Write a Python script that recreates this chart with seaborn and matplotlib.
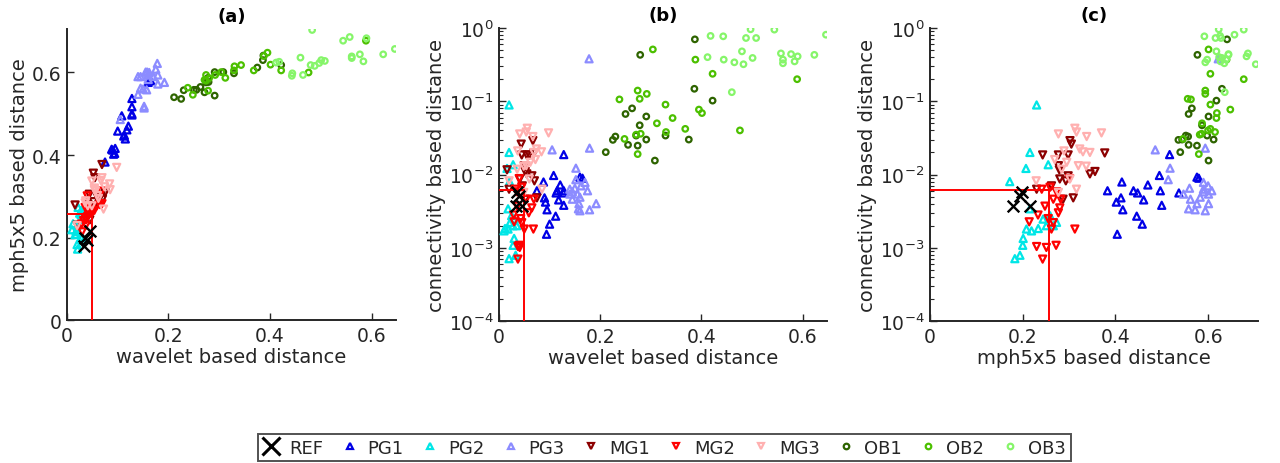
import numpy as np
import pandas as pd
import matplotlib
matplotlib.use("Agg")
import matplotlib.pyplot as plt
from matplotlib.lines import Line2D
import seaborn as sns

# ---------------- data (wavelet, mph5x5, connectivity) per group ----------------
REF_wav = [0.033, 0.040, 0.045, 0.036]
REF_mph = [0.180, 0.194, 0.2155, 0.198]
REF_con = [0.00375, 0.0051, 0.0037, 0.0057]

PG1_wav = [0.128, 0.108, 0.121, 0.088, 0.075, 0.115, 0.113, 0.118, 0.128, 0.128,
           0.092, 0.090, 0.095, 0.112, 0.128, 0.160, 0.165, 0.094, 0.100]
PG1_mph = [0.517, 0.495, 0.470, 0.414, 0.383, 0.439, 0.448, 0.461, 0.497, 0.500,
           0.402, 0.412, 0.416, 0.446, 0.537, 0.576, 0.580, 0.404, 0.458]
PG1_con = [0.0187, 0.0097, 0.0072, 0.0079, 0.0060, 0.0060, 0.0056, 0.0045, 0.0060, 0.0038,
           0.0042, 0.0048, 0.0033, 0.0027, 0.0056, 0.0092, 0.0089, 0.00153, 0.0021]

PG2_wav = [0.020, 0.020, 0.028, 0.016, 0.021, 0.018, 0.025, 0.030, 0.022, 0.035,
           0.028, 0.012, 0.018, 0.010, 0.030, 0.028, 0.033, 0.020]
PG2_mph = [0.230, 0.2155, 0.255, 0.207, 0.172, 0.2155, 0.259, 0.244, 0.273, 0.251,
           0.266, 0.2335, 0.208, 0.219, 0.201, 0.200, 0.194, 0.183]
PG2_con = [0.089, 0.020, 0.0136, 0.0121, 0.0080, 0.0034, 0.00274, 0.00246, 0.00222, 0.0020,
           0.0020, 0.00183, 0.0018, 0.0017, 0.00134, 0.00108, 0.00079, 0.00071]

PG3_wav = [0.105, 0.152, 0.179, 0.140, 0.150, 0.160, 0.170, 0.175, 0.155, 0.145,
           0.192, 0.157, 0.179, 0.158, 0.160, 0.140, 0.178, 0.152, 0.162, 0.145]
PG3_mph = [0.486, 0.518, 0.594, 0.547, 0.560, 0.583, 0.590, 0.608, 0.601, 0.562,
           0.576, 0.558, 0.572, 0.601, 0.594, 0.590, 0.622, 0.514, 0.600, 0.590]
PG3_con = [0.0217, 0.0122, 0.0229, 0.0054, 0.0065, 0.0049, 0.0078, 0.0060, 0.0054, 0.0046,
           0.0040, 0.0034, 0.0033, 0.0040, 0.0032, 0.0063, 0.38, 0.0085, 0.0070, 0.0058]

MG1_wav = [0.045, 0.055, 0.067, 0.044, 0.060, 0.050, 0.070, 0.065, 0.041, 0.046,
           0.020, 0.052, 0.075, 0.055, 0.052, 0.069, 0.016]
MG1_mph = [0.243, 0.277, 0.302, 0.305, 0.298, 0.277, 0.293, 0.298, 0.280, 0.262,
           0.230, 0.287, 0.309, 0.345, 0.356, 0.377, 0.279]
MG1_con = [0.0185, 0.0185, 0.029, 0.026, 0.0185, 0.0132, 0.0082, 0.0096, 0.0087, 0.0070,
           0.0063, 0.0046, 0.0048, 0.0102, 0.0110, 0.0197, 0.0116]

MG2_wav = [0.030, 0.0375, 0.041, 0.0375, 0.040, 0.068, 0.036, 0.029, 0.043, 0.045,
           0.059, 0.065, 0.036, 0.054, 0.045, 0.033, 0.069, 0.050, 0.040]
MG2_mph = [0.214, 0.230, 0.251, 0.243, 0.272, 0.3125, 0.248, 0.233, 0.255, 0.266,
           0.277, 0.280, 0.273, 0.266, 0.259, 0.241, 0.282, 0.262, 0.301]
MG2_con = [0.00226, 0.00104, 0.00101, 0.0007, 0.00108, 0.0018, 0.0037, 0.0028, 0.0025, 0.0022,
           0.0030, 0.0035, 0.0058, 0.0046, 0.0067, 0.0063, 0.0046, 0.0018, 0.0088]

MG3_wav = [0.041, 0.056, 0.054, 0.067, 0.098, 0.074, 0.084, 0.069, 0.062, 0.054,
           0.036, 0.060, 0.085, 0.049, 0.020, 0.037, 0.072, 0.049]
MG3_mph = [0.277, 0.3125, 0.316, 0.338, 0.370, 0.323, 0.330, 0.345, 0.295, 0.320,
           0.284, 0.302, 0.316, 0.277, 0.229, 0.289, 0.269, 0.337]
MG3_con = [0.0358, 0.0428, 0.038, 0.033, 0.037, 0.0223, 0.0204, 0.0200, 0.0147, 0.0132,
           0.0118, 0.0087, 0.0063, 0.0057, 0.0082, 0.021, 0.016, 0.013]

OB1_wav = [0.387, 0.279, 0.386, 0.422, 0.263, 0.250, 0.291, 0.278, 0.329, 0.375,
           0.225, 0.255, 0.274, 0.211, 0.308, 0.230, 0.291, 0.271]
OB1_mph = [0.641, 0.577, 0.630, 0.618, 0.565, 0.558, 0.601, 0.587, 0.598, 0.612,
           0.536, 0.558, 0.576, 0.540, 0.601, 0.557, 0.544, 0.552]
OB1_con = [0.70, 0.43, 0.148, 0.102, 0.080, 0.067, 0.062, 0.047, 0.034, 0.030,
           0.0297, 0.0254, 0.0248, 0.0202, 0.0155, 0.033, 0.030, 0.034]

OB2_wav = [0.304, 0.388, 0.422, 0.589, 0.274, 0.292, 0.278, 0.238, 0.329, 0.395,
           0.401, 0.343, 0.312, 0.368, 0.476, 0.330, 0.248, 0.280, 0.271, 0.274]
OB2_mph = [0.601, 0.640, 0.605, 0.677, 0.594, 0.594, 0.556, 0.563, 0.605, 0.648,
           0.619, 0.618, 0.587, 0.605, 0.600, 0.615, 0.546, 0.586, 0.582, 0.580]
OB2_con = [0.51, 0.37, 0.237, 0.20, 0.14, 0.126, 0.108, 0.106, 0.090, 0.077,
           0.069, 0.059, 0.050, 0.042, 0.040, 0.038, 0.0306, 0.036, 0.035, 0.019]

OB3_wav = [0.497, 0.544, 0.646, 0.418, 0.443, 0.488, 0.508, 0.483, 0.480, 0.444,
           0.465, 0.501, 0.557, 0.561, 0.561, 0.577, 0.584, 0.590, 0.623, 0.460, 0.412]
OB3_mph = [0.623, 0.677, 0.657, 0.626, 0.592, 0.616, 0.628, 0.703, 0.618, 0.598,
           0.594, 0.630, 0.686, 0.639, 0.635, 0.644, 0.627, 0.683, 0.644, 0.636, 0.624]
OB3_con = [0.96, 0.95, 0.81, 0.78, 0.77, 0.73, 0.73, 0.32, 0.48, 0.37,
           0.34, 0.39, 0.45, 0.37, 0.33, 0.44, 0.35, 0.41, 0.43, 0.133, 0.40]

# thresholds (red lines)
thr_wav = 0.05
thr_mph = 0.256
thr_con = 0.0062

groups = ["REF", "PG1", "PG2", "PG3", "MG1", "MG2", "MG3", "OB1", "OB2", "OB3"]
colors = {"REF": "#000000", "PG1": "#0000e6", "PG2": "#00e6e6", "PG3": "#8c8cff",
          "MG1": "#8c0000", "MG2": "#ff0000", "MG3": "#ffb0b0",
          "OB1": "#2e6400", "OB2": "#4cc000", "OB3": "#86f56a"}
markers = {"REF": "x", "PG1": "^", "PG2": "^", "PG3": "^", "MG1": "v", "MG2": "v",
           "MG3": "v", "OB1": "o", "OB2": "o", "OB3": "o"}
sizes = {"^": 26, "v": 26, "o": 16}

series = {
    "REF": (REF_wav, REF_mph, REF_con), "PG1": (PG1_wav, PG1_mph, PG1_con),
    "PG2": (PG2_wav, PG2_mph, PG2_con), "PG3": (PG3_wav, PG3_mph, PG3_con),
    "MG1": (MG1_wav, MG1_mph, MG1_con), "MG2": (MG2_wav, MG2_mph, MG2_con),
    "MG3": (MG3_wav, MG3_mph, MG3_con), "OB1": (OB1_wav, OB1_mph, OB1_con),
    "OB2": (OB2_wav, OB2_mph, OB2_con), "OB3": (OB3_wav, OB3_mph, OB3_con),
}
rows = []
for g, (w, m, c) in series.items():
    for a, b, d in zip(w, m, c):
        rows.append({"group": g, "wav": a, "mph": b, "con": d})
df = pd.DataFrame(rows)

# ---------------- plotting ----------------
sns.set_theme(style="white")
plt.rcParams["font.family"] = ["DejaVu Sans"]
plt.rcParams["axes.edgecolor"] = "#262626"
plt.rcParams["xtick.color"] = "#262626"
plt.rcParams["ytick.color"] = "#262626"

fig = plt.figure(figsize=(12.8, 4.64), dpi=100)
axa = fig.add_axes([0.0523, 0.308, 0.2570, 0.627])
axb = fig.add_axes([0.3898, 0.306, 0.2563, 0.6315])
axc = fig.add_axes([0.7266, 0.306, 0.2563, 0.6315])

panels = [(axa, "wav", "mph", "(a)", "wavelet based distance", "mph5x5 based distance", False),
          (axb, "wav", "con", "(b)", "wavelet based distance", "connectivity based distance", True),
          (axc, "mph", "con", "(c)", "mph5x5 based distance", "connectivity based distance", True)]

order = groups[1:] + ["REF"]
for ax, xv, yv, title, xl, yl, logy in panels:
    for g in order:
        sub = df[df["group"] == g]
        if g == "REF":
            sns.scatterplot(data=sub, x=xv, y=yv, ax=ax, marker="x", s=70,
                            color="black", linewidth=1.7, legend=False, zorder=5)
        else:
            mk = markers[g]
            sns.scatterplot(data=sub, x=xv, y=yv, ax=ax, marker=mk, s=sizes[mk],
                            facecolor="none", edgecolor=colors[g], linewidth=1.6,
                            legend=False, zorder=3)
    if logy:
        ax.set_yscale("log")
        ax.set_ylim(1e-4, 1)
    else:
        ax.set_ylim(0, 0.705)
        ax.set_yticks([0, 0.2, 0.4, 0.6])
        ax.set_yticklabels(["0", "0.2", "0.4", "0.6"])
    ax.set_xlim(0, 0.648 if xv == "wav" else 0.708)
    ax.set_xticks([0, 0.2, 0.4, 0.6])
    ax.set_xticklabels(["0", "0.2", "0.4", "0.6"])
    ax.set_xlabel(xl, fontsize=14, color="#262626", labelpad=2)
    ax.set_ylabel(yl, fontsize=14, color="#262626", labelpad=2)
    ax.set_title(title, fontsize=13, fontweight="bold", color="black", pad=6)
    for s in ["top", "right"]:
        ax.spines[s].set_visible(False)
    for s in ["left", "bottom"]:
        ax.spines[s].set_linewidth(1.4)
        ax.spines[s].set_color("#262626")
    ax.tick_params(axis="both", which="both", bottom=True, left=True, top=False, right=False)
    ax.tick_params(axis="both", which="major", direction="in", length=5, width=1.0,
                   labelsize=13.5, pad=4)
    ax.tick_params(axis="both", which="minor", direction="in", length=3, width=0.8)

# red threshold lines
axa.plot([thr_wav, thr_wav], [0, thr_mph], color="red", lw=1.4, zorder=4)
axa.plot([0, thr_wav], [thr_mph, thr_mph], color="red", lw=1.4, zorder=4)
axb.plot([thr_wav, thr_wav], [1e-4, thr_con], color="red", lw=1.4, zorder=4)
axb.plot([0, thr_wav], [thr_con, thr_con], color="red", lw=1.4, zorder=4)
axc.plot([thr_mph, thr_mph], [1e-4, thr_con], color="red", lw=1.4, zorder=4)
axc.plot([0, thr_mph], [thr_con, thr_con], color="red", lw=1.4, zorder=4)

# legend
handles = []
for g in groups:
    if g == "REF":
        h = Line2D([], [], linestyle="none", marker="x", markersize=13, markeredgewidth=2.2,
                   color="black")
    else:
        h = Line2D([], [], linestyle="none", marker=markers[g],
                   markersize=5 if markers[g] != "o" else 4,
                   markerfacecolor="none", markeredgecolor=colors[g], markeredgewidth=1.6)
    handles.append(h)
leg = fig.legend(handles, groups, loc="center", bbox_to_anchor=(0.519, 0.0334), ncol=10,
                 fontsize=13, frameon=True, fancybox=False, handlelength=1.0,
                 handletextpad=0.5, columnspacing=0.95, borderpad=0.25, borderaxespad=0)
leg.get_frame().set_edgecolor("#262626")
leg.get_frame().set_linewidth(1.4)

fig.savefig("out.png", dpi=100)
